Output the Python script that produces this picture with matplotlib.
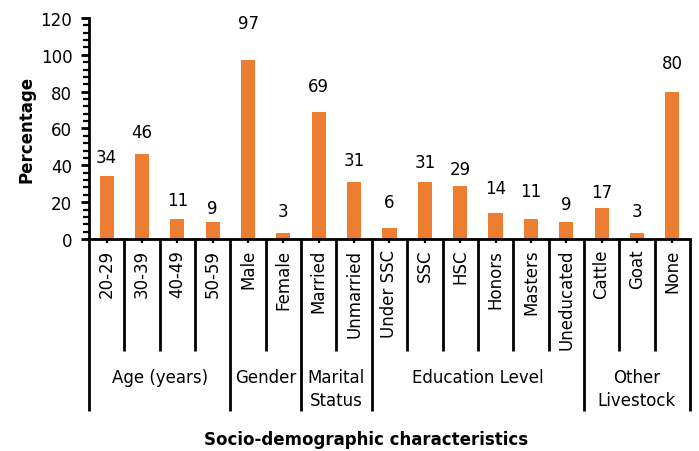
import matplotlib.pyplot as plt
import matplotlib.transforms as mtransforms
import numpy as np
from matplotlib.ticker import MultipleLocator

plt.rcParams["font.family"] = ["DejaVu Sans"]

categories = [
    "20-29", "30-39", "40-49", "50-59",
    "Male", "Female",
    "Married", "Unmarried",
    "Under SSC", "SSC", "HSC", "Honors", "Masters", "Uneducated",
    "Cattle", "Goat", "None",
]
values = [34, 46, 11, 9, 97, 3, 69, 31, 6, 31, 29, 14, 11, 9, 17, 3, 80]
groups = ["Age (years)", "Gender", "Marital\nStatus", "Education Level", "Other\nLivestock"]
group_sizes = [4, 2, 2, 6, 3]

# distance (px) from bar top to the centre of each value label
label_gaps = [19, 22, 19, 14, 37, 22, 26, 22, 26, 20, 17, 25, 28, 18, 16, 22, 29]

BAR_COLOR = "#ED7D31"

fig = plt.figure(figsize=(6.99, 4.52), dpi=100)
ax = fig.add_axes([0.1273, 0.469, 0.8598, 0.489])

x = np.arange(len(categories))
bars = ax.bar(x, values, width=0.4, color=BAR_COLOR, zorder=2)
for rect, v, gap in zip(bars, values, label_gaps):
    ax.annotate(f"{v}", (rect.get_x() + rect.get_width() / 2, v),
                xytext=(0, gap * 0.72), textcoords="offset points",
                ha="center", va="center", fontsize=12)

ax.set_xlim(-0.5, len(categories) - 0.5)
ax.set_ylim(0, 120)
ax.yaxis.set_major_locator(MultipleLocator(20))
ax.yaxis.set_minor_locator(MultipleLocator(4))
ax.tick_params(axis="y", which="major", direction="out", length=6, width=2,
               labelsize=12, pad=6)
ax.tick_params(axis="y", which="minor", direction="out", length=4, width=1.6)

ax.set_xticks(x)
ax.set_xticklabels(categories, rotation=90, fontsize=12, va="top")
ax.tick_params(axis="x", which="major", direction="inout", length=6, width=1.6, pad=4)

for side in ("top", "right"):
    ax.spines[side].set_visible(False)
ax.spines["left"].set_linewidth(2)
ax.spines["bottom"].set_linewidth(2)

# category separators below the axis, longer ones between groups
trans = mtransforms.blended_transform_factory(ax.transData, ax.transAxes)
edges = np.cumsum([0] + group_sizes)
for k in range(len(categories) + 1):
    bottom = -0.778 if k in edges else -0.507
    ax.plot([k - 0.5, k - 0.5], [0, bottom], color="black", lw=2,
            transform=trans, clip_on=False, solid_capstyle="butt")

for name, start, size in zip(groups, edges[:-1], group_sizes):
    ax.text(start - 0.5 + size / 2, -0.585, name, transform=trans,
            ha="center", va="top", fontsize=12, linespacing=1.35)

ax.set_ylabel("Percentage", fontsize=12, fontweight="bold", labelpad=4)
fig.text(0.524, 0.027, "Socio-demographic characteristics", ha="center",
         va="center", fontsize=12, fontweight="bold")

fig.savefig("out.png", dpi=100)
